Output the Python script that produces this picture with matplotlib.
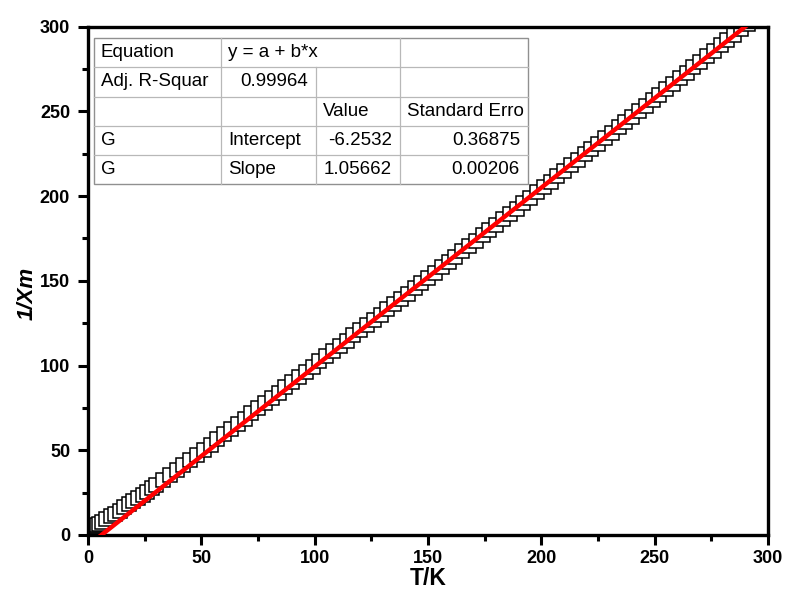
import matplotlib
matplotlib.use("Agg")
import matplotlib.pyplot as plt
import numpy as np
from matplotlib.lines import Line2D
from matplotlib.ticker import MultipleLocator

# ── Data ──────────────────────────────────────────────────────────────────────
temp_k = [2, 3, 4, 5, 6, 8, 10, 12, 14, 16, 18, 20, 22, 24, 26, 28, 30,
          33, 36, 39, 42, 45, 48, 51, 54, 57, 60, 63, 66, 69, 72, 75, 78,
          81, 84, 87, 90, 93, 96, 99, 102, 105, 108, 111, 114, 117, 120,
          123, 126, 129, 132, 135, 138, 141, 144, 147, 150, 153, 156, 159,
          162, 165, 168, 171, 174, 177, 180, 183, 186, 189, 192, 195, 198,
          201, 204, 207, 210, 213, 216, 219, 222, 225, 228, 231, 234, 237,
          240, 243, 246, 249, 252, 255, 258, 261, 264, 267, 270, 273, 276,
          279, 282, 285, 288, 291]
inv_chi = [4.4, 5.2, 6.0, 6.7, 7.5, 9.2, 10.9, 12.6, 14.4, 16.3, 18.1, 19.9,
           21.8, 23.7, 25.6, 27.5, 29.4,
           32.4, 35.4, 38.4, 41.3, 44.3, 47.3, 50.2, 53.3, 56.4, 59.4, 62.5,
           65.6, 68.7, 71.7, 74.8, 77.9, 80.9, 84.0, 87.1, 90.1, 93.2, 96.3,
           99.4, 102.4, 105.5, 108.6, 111.6, 114.7, 117.8, 120.8, 123.9,
           127.0, 130.1, 133.1, 136.2, 139.3, 142.3, 145.5, 148.6, 151.7,
           154.8, 158.0, 161.1, 164.2, 167.4, 170.5, 173.6, 176.8, 180.0,
           183.1, 186.3, 189.5, 192.6, 195.8, 199.0, 202.3, 205.4, 208.6,
           211.8, 215.0, 218.2, 221.4, 224.7, 227.8, 231.0, 234.3, 237.4,
           240.6, 243.9, 247.0, 250.3, 253.5, 256.8, 259.9, 263.2, 266.4,
           269.6, 272.8, 276.1, 279.2, 282.5, 285.7, 289.0, 292.1, 295.4,
           298.6, 301.8]

# fit parameters as printed in the table
intercept = -6.2532
slope = 1.05662
adj_r2 = 0.99964
intercept_err = 0.36875
slope_err = 0.00206

table_rows = [
    ["Equation", "y = a + b*x", "", ""],
    ["Adj. R-Squar", f"{adj_r2:.5f}", "", ""],
    ["", "", "Value", "Standard Erro"],
    ["G", "Intercept", f"{intercept:.4f}", f"{intercept_err:.5f}"],
    ["G", "Slope", f"{slope:.5f}", f"{slope_err:.5f}"],
]

plt.rcParams["font.family"] = ["Liberation Sans", "DejaVu Sans"]

fig = plt.figure(figsize=(7.87, 5.95), dpi=100)
ax = fig.add_axes([0.112, 0.101, 0.864, 0.854])

ax.plot(temp_k, inv_chi, "s", ms=9.5, mfc="white", mec="black", mew=1.1,
        zorder=2, clip_on=True)
t_fit = np.array([temp_k[0], temp_k[-1]])
ax.plot(t_fit, intercept + slope * t_fit, color="#ff0000", lw=3.2, zorder=3)

ax.set_xlim(0, 300)
ax.set_ylim(0, 300)
ax.xaxis.set_major_locator(MultipleLocator(50))
ax.xaxis.set_minor_locator(MultipleLocator(25))
ax.yaxis.set_major_locator(MultipleLocator(50))
ax.yaxis.set_minor_locator(MultipleLocator(25))
ax.tick_params(which="both", direction="out", width=2.2, top=False, right=False)
ax.tick_params(which="major", length=7)
ax.tick_params(which="minor", length=4)
ax.tick_params(axis="x", which="major", pad=4)
ax.tick_params(axis="y", which="major", pad=6)
for sp in ax.spines.values():
    sp.set_linewidth(2.4)
for lab in ax.get_xticklabels() + ax.get_yticklabels():
    lab.set_fontweight("bold")
    lab.set_fontsize(13)

ax.set_xlabel("T/K", fontsize=16.5, fontweight="bold", labelpad=0)
ax.set_ylabel("1/Xm", fontsize=16, fontweight="bold", style="italic")
ax.yaxis.set_label_coords(-0.074, 0.475)

# ── Fit-result table (pixel layout from the picture) ─────────────────────────
W, H = 787, 595
col_x = [94, 221, 316, 400, 528]
row_y = [38, 67, 97, 126, 155, 184]
grid_col = "#b8b8b8"

def fx(px):
    return px / W

def fy(py):
    return 1 - py / H

fig.patches.append(plt.Rectangle((fx(col_x[0]), fy(row_y[-1])),
                                 fx(col_x[-1]) - fx(col_x[0]),
                                 fy(row_y[0]) - fy(row_y[-1]),
                                 transform=fig.transFigure, facecolor="white",
                                 edgecolor="#909090", lw=1.0, zorder=5))
for y in row_y[1:-1]:
    fig.add_artist(Line2D([fx(col_x[0]), fx(col_x[-1])], [fy(y), fy(y)],
                          color=grid_col, lw=0.9, zorder=6))
for i, x in enumerate(col_x[1:-1]):
    # first row: "y = a + b*x" cell spans two columns
    top = row_y[1] if i == 1 else row_y[0]
    fig.add_artist(Line2D([fx(x), fx(x)], [fy(top), fy(row_y[-1])],
                          color=grid_col, lw=0.9, zorder=6))

right_cells = {(1, 1), (3, 2), (3, 3), (4, 2), (4, 3)}
for r, row in enumerate(table_rows):
    yc = (row_y[r] + row_y[r + 1]) / 2
    for c, txt in enumerate(row):
        if not txt:
            continue
        if (r, c) in right_cells:
            fig.text(fx(col_x[c + 1] - 8), fy(yc), txt, ha="right",
                     va="center", fontsize=13.5, zorder=7)
        else:
            fig.text(fx(col_x[c] + 7), fy(yc), txt, ha="left",
                     va="center", fontsize=13.5, zorder=7)

fig.savefig("out.png", dpi=100)
